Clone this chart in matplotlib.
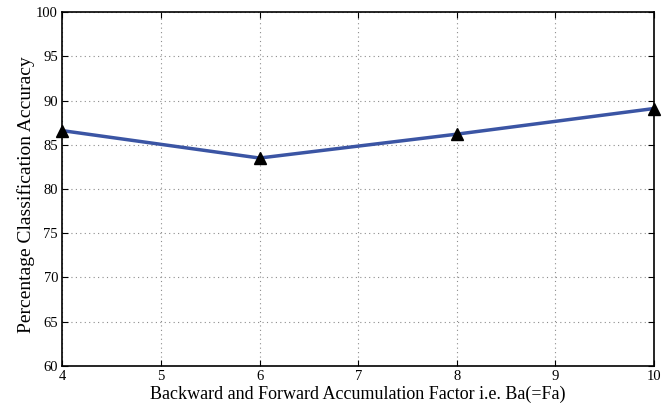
import matplotlib
matplotlib.use('Agg')
import matplotlib.pyplot as plt

factor = [4, 6, 8, 10]
accuracy = [86.6, 83.5, 86.2, 89.1]
xticks = [4, 5, 6, 7, 8, 9, 10]
yticks = [60, 65, 70, 75, 80, 85, 90, 95, 100]

plt.rcParams['font.family'] = 'Liberation Serif'
plt.rcParams['font.size'] = 11

fig = plt.figure(figsize=(6.62, 4.03), dpi=100)
ax = fig.add_axes([0.094, 0.092, 0.894, 0.878])

ax.plot(factor, accuracy, color='#3b55a4', linewidth=2.5, marker='^',
        markersize=9, markerfacecolor='black', markeredgecolor='black', clip_on=False, zorder=3)

ax.set_xlim(4, 10)
ax.set_ylim(60, 100)
ax.set_xticks(xticks)
ax.set_yticks(yticks)
ax.grid(True, linestyle=(0, (1, 3)), color='#8c8c8c', linewidth=0.8)
ax.tick_params(direction='in', top=True, right=True, labelsize=10.5, length=4, pad=3)
for s in ax.spines.values():
    s.set_linewidth(1.2)

ax.set_xlabel('Backward and Forward Accumulation Factor i.e. Ba(=Fa)', fontsize=13, labelpad=2)
ax.set_ylabel('Percentage Classification Accuracy', fontsize=14, labelpad=1)
ax.yaxis.label.set_y(0.483)

fig.savefig('out.png', dpi=100)
